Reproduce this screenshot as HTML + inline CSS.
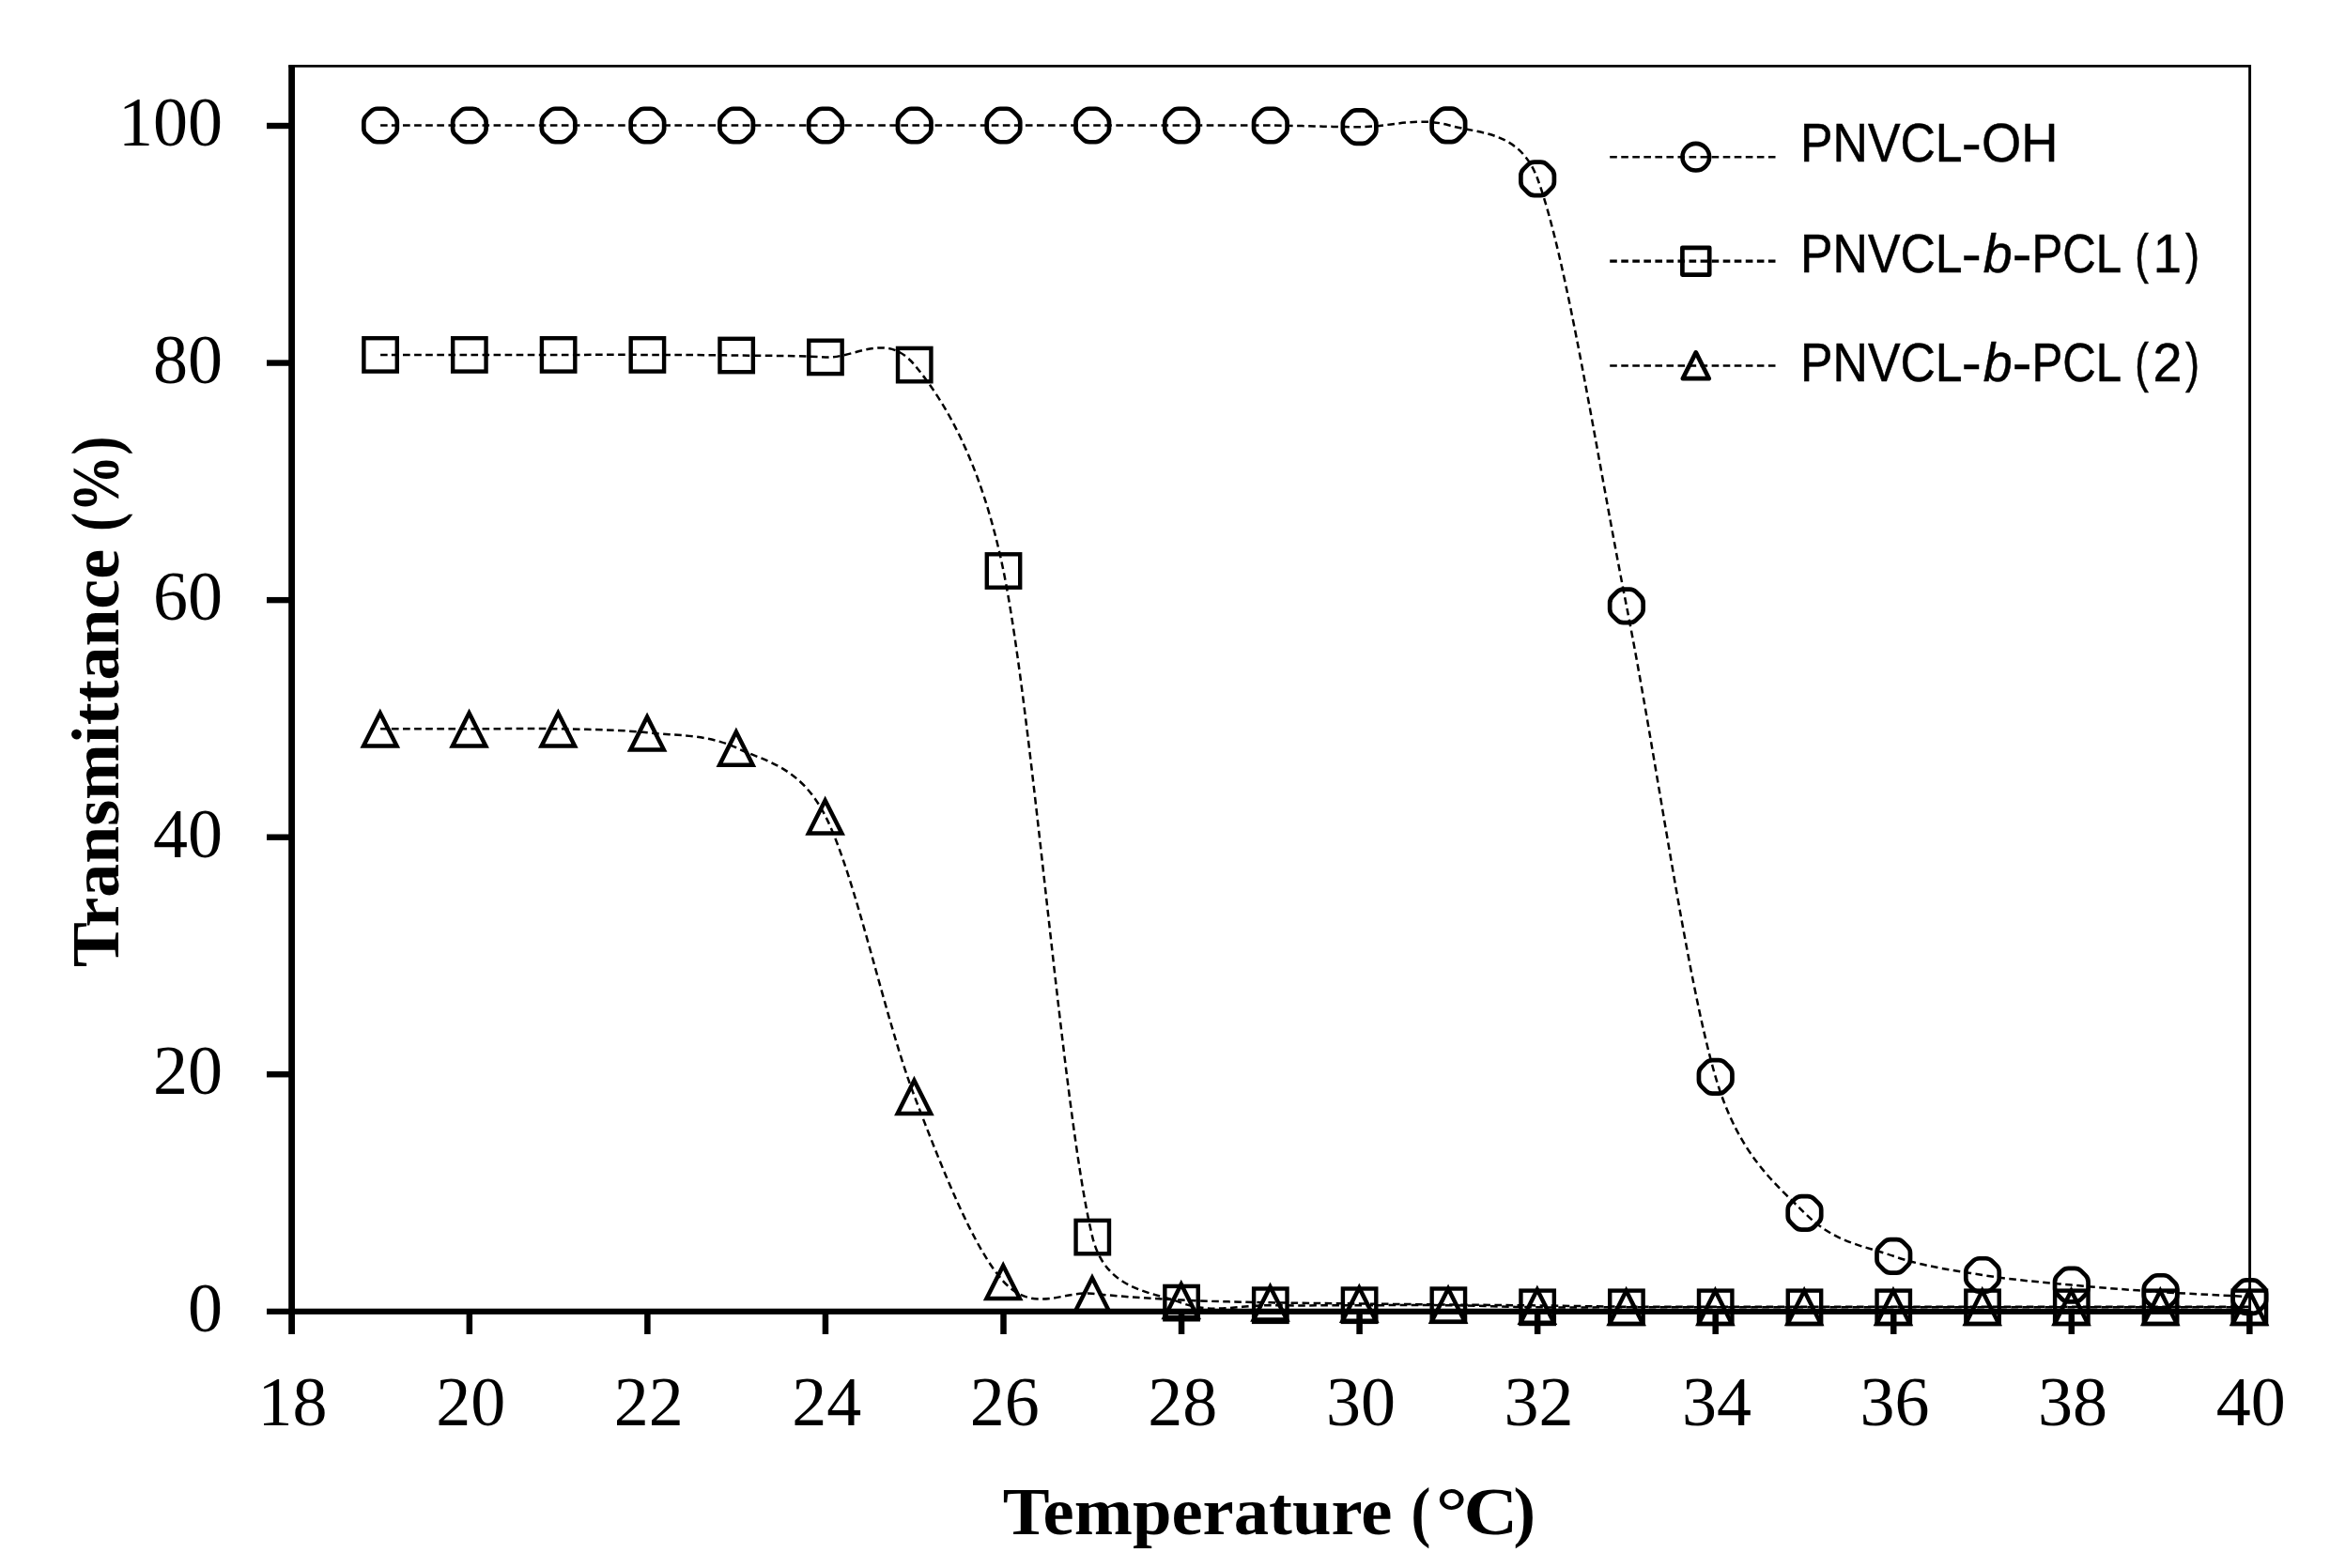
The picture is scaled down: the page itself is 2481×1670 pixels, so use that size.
<!DOCTYPE html>
<html lang="en"><head><meta charset="utf-8"><title>Transmittance vs Temperature</title>
<style>html,body{margin:0;padding:0;background:#fff}svg{display:block}.tk{font-family:"Liberation Serif",serif;font-size:74px;fill:#000}.ttl{font-family:"Liberation Serif",serif;font-weight:bold;font-size:72px;fill:#000}.lg{font-family:"Liberation Sans",sans-serif;font-size:57.5px;fill:#000;stroke:#000;stroke-width:0.5}.ln{fill:none;stroke:#000;stroke-width:2.5;stroke-dasharray:7.6 4.45}.mk{fill:none;stroke:#000;stroke-width:4.7}</style></head><body>
<svg width="2481" height="1670" viewBox="0 0 2481 1670">
<rect width="2481" height="1670" fill="#fff"/>
<path d="M307.3 70.4 H2397 M2395.6 69 V1396" fill="none" stroke="#000" stroke-width="2.9"/>
<path class="ln" d="M405.08 133.50 C420.87 133.50 468.26 133.50 499.85 133.50 C531.44 133.50 563.03 133.50 594.62 133.50 C626.22 133.50 657.81 133.50 689.40 133.50 C720.99 133.50 752.58 133.50 784.17 133.50 C815.77 133.50 847.36 133.50 878.95 133.50 C910.54 133.50 942.13 133.50 973.73 133.50 C1005.32 133.50 1036.91 133.50 1068.50 133.50 C1100.09 133.50 1131.68 133.50 1163.28 133.50 C1194.87 133.50 1226.46 133.50 1258.05 133.50 C1289.64 133.50 1321.23 133.22 1352.83 133.50 C1384.42 133.78 1416.01 135.23 1447.60 135.20 C1479.19 135.17 1510.78 124.12 1542.38 133.30 C1573.97 142.48 1617.95 138.44 1637.15 190.30 C1668.74 275.65 1700.33 485.97 1731.92 645.40 C1763.52 804.83 1795.11 1039.17 1826.70 1146.90 C1851.06 1229.97 1889.88 1259.98 1921.48 1291.80 C1953.07 1323.62 1984.66 1326.77 2016.25 1337.80 C2047.84 1348.83 2079.43 1352.87 2111.03 1358.00 C2142.62 1363.13 2174.21 1365.60 2205.80 1368.60 C2237.39 1371.60 2268.98 1373.92 2300.58 1376.00 C2332.17 1378.08 2379.55 1380.25 2395.35 1381.10"/>
<path class="ln" d="M405.08 377.90 C420.87 377.90 468.26 377.90 499.85 377.90 C531.44 377.90 563.03 377.90 594.62 377.90 C626.22 377.90 657.81 377.80 689.40 377.90 C720.99 378.00 752.58 378.08 784.17 378.50 C815.77 378.92 847.36 378.72 878.95 380.40 C910.54 382.08 943.29 352.05 973.73 388.60 C1005.32 426.53 1044.61 490.91 1068.50 608.00 C1100.09 762.83 1131.68 1187.67 1163.28 1317.60 C1177.19 1374.84 1226.46 1375.50 1258.05 1387.60 C1289.64 1399.70 1321.23 1389.77 1352.83 1390.20 C1384.42 1390.63 1416.01 1390.20 1447.60 1390.20 C1479.19 1390.20 1510.78 1389.85 1542.38 1390.20 C1573.97 1390.55 1605.56 1391.95 1637.15 1392.30 C1668.74 1392.65 1700.33 1392.30 1731.92 1392.30 C1763.52 1392.30 1795.11 1392.30 1826.70 1392.30 C1858.29 1392.30 1889.88 1392.30 1921.48 1392.30 C1953.07 1392.30 1984.66 1392.30 2016.25 1392.30 C2047.84 1392.30 2079.43 1392.30 2111.03 1392.30 C2142.62 1392.30 2174.21 1392.30 2205.80 1392.30 C2237.39 1392.30 2268.98 1392.30 2300.58 1392.30 C2332.17 1392.30 2379.55 1392.30 2395.35 1392.30"/>
<path class="ln" d="M405.08 776.30 C420.87 776.30 468.26 776.30 499.85 776.30 C531.44 776.30 563.03 775.63 594.62 776.30 C626.22 776.97 657.81 776.93 689.40 780.30 C720.99 783.67 752.58 781.67 784.17 796.50 C815.77 811.33 851.77 816.09 878.95 869.30 C910.54 931.15 942.13 1085.02 973.73 1167.60 C1005.32 1250.18 1036.91 1329.77 1068.50 1364.80 C1100.09 1399.83 1131.68 1374.50 1163.28 1377.80 C1194.87 1381.10 1226.46 1383.02 1258.05 1384.60 C1289.64 1386.18 1321.23 1386.65 1352.83 1387.30 C1384.42 1387.95 1416.01 1388.13 1447.60 1388.50 C1479.19 1388.87 1510.78 1389.18 1542.38 1389.50 C1573.97 1389.82 1605.56 1390.03 1637.15 1390.40 C1668.74 1390.77 1700.33 1391.48 1731.92 1391.70 C1763.52 1391.92 1795.11 1391.70 1826.70 1391.70 C1858.29 1391.70 1889.88 1391.70 1921.48 1391.70 C1953.07 1391.70 1984.66 1391.70 2016.25 1391.70 C2047.84 1391.70 2079.43 1391.70 2111.03 1391.70 C2142.62 1391.70 2174.21 1391.70 2205.80 1391.70 C2237.39 1391.70 2268.98 1391.70 2300.58 1391.70 C2332.17 1391.70 2379.55 1391.70 2395.35 1391.70"/>
<path class="mk" stroke-linejoin="round" d="M394.92 118.56 Q397.72 115.75 401.69 115.75 L408.46 115.75 Q412.43 115.75 415.23 118.56 L420.02 123.34 Q422.83 126.15 422.83 130.12 L422.83 136.88 Q422.83 140.85 420.02 143.66 L415.23 148.44 Q412.43 151.25 408.46 151.25 L401.69 151.25 Q397.72 151.25 394.92 148.44 L390.13 143.66 Q387.33 140.85 387.33 136.88 L387.33 130.12 Q387.33 126.15 390.13 123.34 Z"/>
<path class="mk" stroke-linejoin="round" d="M489.69 118.56 Q492.50 115.75 496.47 115.75 L503.23 115.75 Q507.20 115.75 510.01 118.56 L514.79 123.34 Q517.60 126.15 517.60 130.12 L517.60 136.88 Q517.60 140.85 514.79 143.66 L510.01 148.44 Q507.20 151.25 503.23 151.25 L496.47 151.25 Q492.50 151.25 489.69 148.44 L484.91 143.66 Q482.10 140.85 482.10 136.88 L482.10 130.12 Q482.10 126.15 484.91 123.34 Z"/>
<path class="mk" stroke-linejoin="round" d="M584.47 118.56 Q587.27 115.75 591.24 115.75 L598.01 115.75 Q601.98 115.75 604.78 118.56 L609.57 123.34 Q612.38 126.15 612.38 130.12 L612.38 136.88 Q612.38 140.85 609.57 143.66 L604.78 148.44 Q601.98 151.25 598.01 151.25 L591.24 151.25 Q587.27 151.25 584.47 148.44 L579.68 143.66 Q576.88 140.85 576.88 136.88 L576.88 130.12 Q576.88 126.15 579.68 123.34 Z"/>
<path class="mk" stroke-linejoin="round" d="M679.24 118.56 Q682.05 115.75 686.02 115.75 L692.78 115.75 Q696.75 115.75 699.56 118.56 L704.34 123.34 Q707.15 126.15 707.15 130.12 L707.15 136.88 Q707.15 140.85 704.34 143.66 L699.56 148.44 Q696.75 151.25 692.78 151.25 L686.02 151.25 Q682.05 151.25 679.24 148.44 L674.46 143.66 Q671.65 140.85 671.65 136.88 L671.65 130.12 Q671.65 126.15 674.46 123.34 Z"/>
<path class="mk" stroke-linejoin="round" d="M774.02 118.56 Q776.82 115.75 780.79 115.75 L787.56 115.75 Q791.53 115.75 794.33 118.56 L799.12 123.34 Q801.92 126.15 801.92 130.12 L801.92 136.88 Q801.92 140.85 799.12 143.66 L794.33 148.44 Q791.53 151.25 787.56 151.25 L780.79 151.25 Q776.82 151.25 774.02 148.44 L769.23 143.66 Q766.42 140.85 766.42 136.88 L766.42 130.12 Q766.42 126.15 769.23 123.34 Z"/>
<path class="mk" stroke-linejoin="round" d="M868.79 118.56 Q871.60 115.75 875.57 115.75 L882.33 115.75 Q886.30 115.75 889.11 118.56 L893.89 123.34 Q896.70 126.15 896.70 130.12 L896.70 136.88 Q896.70 140.85 893.89 143.66 L889.11 148.44 Q886.30 151.25 882.33 151.25 L875.57 151.25 Q871.60 151.25 868.79 148.44 L864.01 143.66 Q861.20 140.85 861.20 136.88 L861.20 130.12 Q861.20 126.15 864.01 123.34 Z"/>
<path class="mk" stroke-linejoin="round" d="M963.57 118.56 Q966.37 115.75 970.34 115.75 L977.11 115.75 Q981.08 115.75 983.88 118.56 L988.67 123.34 Q991.48 126.15 991.48 130.12 L991.48 136.88 Q991.48 140.85 988.67 143.66 L983.88 148.44 Q981.08 151.25 977.11 151.25 L970.34 151.25 Q966.37 151.25 963.57 148.44 L958.78 143.66 Q955.98 140.85 955.98 136.88 L955.98 130.12 Q955.98 126.15 958.78 123.34 Z"/>
<path class="mk" stroke-linejoin="round" d="M1058.34 118.56 Q1061.15 115.75 1065.12 115.75 L1071.88 115.75 Q1075.85 115.75 1078.66 118.56 L1083.44 123.34 Q1086.25 126.15 1086.25 130.12 L1086.25 136.88 Q1086.25 140.85 1083.44 143.66 L1078.66 148.44 Q1075.85 151.25 1071.88 151.25 L1065.12 151.25 Q1061.15 151.25 1058.34 148.44 L1053.56 143.66 Q1050.75 140.85 1050.75 136.88 L1050.75 130.12 Q1050.75 126.15 1053.56 123.34 Z"/>
<path class="mk" stroke-linejoin="round" d="M1153.12 118.56 Q1155.92 115.75 1159.89 115.75 L1166.66 115.75 Q1170.63 115.75 1173.43 118.56 L1178.22 123.34 Q1181.03 126.15 1181.03 130.12 L1181.03 136.88 Q1181.03 140.85 1178.22 143.66 L1173.43 148.44 Q1170.63 151.25 1166.66 151.25 L1159.89 151.25 Q1155.92 151.25 1153.12 148.44 L1148.33 143.66 Q1145.53 140.85 1145.53 136.88 L1145.53 130.12 Q1145.53 126.15 1148.33 123.34 Z"/>
<path class="mk" stroke-linejoin="round" d="M1247.89 118.56 Q1250.70 115.75 1254.67 115.75 L1261.43 115.75 Q1265.40 115.75 1268.21 118.56 L1272.99 123.34 Q1275.80 126.15 1275.80 130.12 L1275.80 136.88 Q1275.80 140.85 1272.99 143.66 L1268.21 148.44 Q1265.40 151.25 1261.43 151.25 L1254.67 151.25 Q1250.70 151.25 1247.89 148.44 L1243.11 143.66 Q1240.30 140.85 1240.30 136.88 L1240.30 130.12 Q1240.30 126.15 1243.11 123.34 Z"/>
<path class="mk" stroke-linejoin="round" d="M1342.67 118.56 Q1345.47 115.75 1349.44 115.75 L1356.21 115.75 Q1360.18 115.75 1362.98 118.56 L1367.77 123.34 Q1370.58 126.15 1370.58 130.12 L1370.58 136.88 Q1370.58 140.85 1367.77 143.66 L1362.98 148.44 Q1360.18 151.25 1356.21 151.25 L1349.44 151.25 Q1345.47 151.25 1342.67 148.44 L1337.88 143.66 Q1335.08 140.85 1335.08 136.88 L1335.08 130.12 Q1335.08 126.15 1337.88 123.34 Z"/>
<path class="mk" stroke-linejoin="round" d="M1437.44 120.26 Q1440.25 117.45 1444.22 117.45 L1450.98 117.45 Q1454.95 117.45 1457.76 120.26 L1462.54 125.04 Q1465.35 127.85 1465.35 131.82 L1465.35 138.58 Q1465.35 142.55 1462.54 145.36 L1457.76 150.14 Q1454.95 152.95 1450.98 152.95 L1444.22 152.95 Q1440.25 152.95 1437.44 150.14 L1432.66 145.36 Q1429.85 142.55 1429.85 138.58 L1429.85 131.82 Q1429.85 127.85 1432.66 125.04 Z"/>
<path class="mk" stroke-linejoin="round" d="M1532.22 118.36 Q1535.02 115.55 1538.99 115.55 L1545.76 115.55 Q1549.73 115.55 1552.53 118.36 L1557.32 123.14 Q1560.12 125.95 1560.12 129.92 L1560.12 136.68 Q1560.12 140.65 1557.32 143.46 L1552.53 148.24 Q1549.73 151.05 1545.76 151.05 L1538.99 151.05 Q1535.02 151.05 1532.22 148.24 L1527.43 143.46 Q1524.62 140.65 1524.62 136.68 L1524.62 129.92 Q1524.62 125.95 1527.43 123.14 Z"/>
<path class="mk" stroke-linejoin="round" d="M1626.99 175.36 Q1629.80 172.55 1633.77 172.55 L1640.53 172.55 Q1644.50 172.55 1647.31 175.36 L1652.09 180.14 Q1654.90 182.95 1654.90 186.92 L1654.90 193.68 Q1654.90 197.65 1652.09 200.46 L1647.31 205.24 Q1644.50 208.05 1640.53 208.05 L1633.77 208.05 Q1629.80 208.05 1626.99 205.24 L1622.21 200.46 Q1619.40 197.65 1619.40 193.68 L1619.40 186.92 Q1619.40 182.95 1622.21 180.14 Z"/>
<path class="mk" stroke-linejoin="round" d="M1721.77 630.46 Q1724.57 627.65 1728.54 627.65 L1735.31 627.65 Q1739.28 627.65 1742.08 630.46 L1746.87 635.24 Q1749.67 638.05 1749.67 642.02 L1749.67 648.78 Q1749.67 652.75 1746.87 655.56 L1742.08 660.34 Q1739.28 663.15 1735.31 663.15 L1728.54 663.15 Q1724.57 663.15 1721.77 660.34 L1716.98 655.56 Q1714.17 652.75 1714.17 648.78 L1714.17 642.02 Q1714.17 638.05 1716.98 635.24 Z"/>
<path class="mk" stroke-linejoin="round" d="M1816.54 1131.96 Q1819.35 1129.15 1823.32 1129.15 L1830.08 1129.15 Q1834.05 1129.15 1836.86 1131.96 L1841.64 1136.74 Q1844.45 1139.55 1844.45 1143.52 L1844.45 1150.28 Q1844.45 1154.25 1841.64 1157.06 L1836.86 1161.84 Q1834.05 1164.65 1830.08 1164.65 L1823.32 1164.65 Q1819.35 1164.65 1816.54 1161.84 L1811.76 1157.06 Q1808.95 1154.25 1808.95 1150.28 L1808.95 1143.52 Q1808.95 1139.55 1811.76 1136.74 Z"/>
<path class="mk" stroke-linejoin="round" d="M1911.32 1276.86 Q1914.12 1274.05 1918.09 1274.05 L1924.86 1274.05 Q1928.83 1274.05 1931.63 1276.86 L1936.42 1281.64 Q1939.23 1284.45 1939.23 1288.42 L1939.23 1295.18 Q1939.23 1299.15 1936.42 1301.96 L1931.63 1306.74 Q1928.83 1309.55 1924.86 1309.55 L1918.09 1309.55 Q1914.12 1309.55 1911.32 1306.74 L1906.53 1301.96 Q1903.73 1299.15 1903.73 1295.18 L1903.73 1288.42 Q1903.73 1284.45 1906.53 1281.64 Z"/>
<path class="mk" stroke-linejoin="round" d="M2006.09 1322.86 Q2008.90 1320.05 2012.87 1320.05 L2019.63 1320.05 Q2023.60 1320.05 2026.41 1322.86 L2031.19 1327.64 Q2034.00 1330.45 2034.00 1334.42 L2034.00 1341.18 Q2034.00 1345.15 2031.19 1347.96 L2026.41 1352.74 Q2023.60 1355.55 2019.63 1355.55 L2012.87 1355.55 Q2008.90 1355.55 2006.09 1352.74 L2001.31 1347.96 Q1998.50 1345.15 1998.50 1341.18 L1998.50 1334.42 Q1998.50 1330.45 2001.31 1327.64 Z"/>
<path class="mk" stroke-linejoin="round" d="M2100.87 1343.06 Q2103.67 1340.25 2107.64 1340.25 L2114.41 1340.25 Q2118.38 1340.25 2121.18 1343.06 L2125.97 1347.84 Q2128.78 1350.65 2128.78 1354.62 L2128.78 1361.38 Q2128.78 1365.35 2125.97 1368.16 L2121.18 1372.94 Q2118.38 1375.75 2114.41 1375.75 L2107.64 1375.75 Q2103.67 1375.75 2100.87 1372.94 L2096.08 1368.16 Q2093.28 1365.35 2093.28 1361.38 L2093.28 1354.62 Q2093.28 1350.65 2096.08 1347.84 Z"/>
<path class="mk" stroke-linejoin="round" d="M2195.64 1353.66 Q2198.45 1350.85 2202.42 1350.85 L2209.18 1350.85 Q2213.15 1350.85 2215.96 1353.66 L2220.74 1358.44 Q2223.55 1361.25 2223.55 1365.22 L2223.55 1371.98 Q2223.55 1375.95 2220.74 1378.76 L2215.96 1383.54 Q2213.15 1386.35 2209.18 1386.35 L2202.42 1386.35 Q2198.45 1386.35 2195.64 1383.54 L2190.86 1378.76 Q2188.05 1375.95 2188.05 1371.98 L2188.05 1365.22 Q2188.05 1361.25 2190.86 1358.44 Z"/>
<path class="mk" stroke-linejoin="round" d="M2290.42 1361.06 Q2293.22 1358.25 2297.19 1358.25 L2303.96 1358.25 Q2307.93 1358.25 2310.73 1361.06 L2315.52 1365.84 Q2318.33 1368.65 2318.33 1372.62 L2318.33 1379.38 Q2318.33 1383.35 2315.52 1386.16 L2310.73 1390.94 Q2307.93 1393.75 2303.96 1393.75 L2297.19 1393.75 Q2293.22 1393.75 2290.42 1390.94 L2285.63 1386.16 Q2282.83 1383.35 2282.83 1379.38 L2282.83 1372.62 Q2282.83 1368.65 2285.63 1365.84 Z"/>
<path class="mk" stroke-linejoin="round" d="M2385.19 1366.16 Q2388.00 1363.35 2391.97 1363.35 L2398.73 1363.35 Q2402.70 1363.35 2405.51 1366.16 L2410.29 1370.94 Q2413.10 1373.75 2413.10 1377.72 L2413.10 1384.48 Q2413.10 1388.45 2410.29 1391.26 L2405.51 1396.04 Q2402.70 1398.85 2398.73 1398.85 L2391.97 1398.85 Q2388.00 1398.85 2385.19 1396.04 L2380.41 1391.26 Q2377.60 1388.45 2377.60 1384.48 L2377.60 1377.72 Q2377.60 1373.75 2380.41 1370.94 Z"/>
<rect class="mk" style="stroke-width:4.4" x="387.38" y="360.20" width="35.40" height="35.40"/>
<rect class="mk" style="stroke-width:4.4" x="482.15" y="360.20" width="35.40" height="35.40"/>
<rect class="mk" style="stroke-width:4.4" x="576.92" y="360.20" width="35.40" height="35.40"/>
<rect class="mk" style="stroke-width:4.4" x="671.70" y="360.20" width="35.40" height="35.40"/>
<rect class="mk" style="stroke-width:4.4" x="766.47" y="360.80" width="35.40" height="35.40"/>
<rect class="mk" style="stroke-width:4.4" x="861.25" y="362.70" width="35.40" height="35.40"/>
<rect class="mk" style="stroke-width:4.4" x="956.03" y="370.90" width="35.40" height="35.40"/>
<rect class="mk" style="stroke-width:4.4" x="1050.80" y="590.30" width="35.40" height="35.40"/>
<rect class="mk" style="stroke-width:4.4" x="1145.58" y="1299.90" width="35.40" height="35.40"/>
<rect class="mk" style="stroke-width:4.4" x="1240.35" y="1369.90" width="35.40" height="35.40"/>
<rect class="mk" style="stroke-width:4.4" x="1335.12" y="1372.50" width="35.40" height="35.40"/>
<rect class="mk" style="stroke-width:4.4" x="1429.90" y="1372.50" width="35.40" height="35.40"/>
<rect class="mk" style="stroke-width:4.4" x="1524.67" y="1372.50" width="35.40" height="35.40"/>
<rect class="mk" style="stroke-width:4.4" x="1619.45" y="1374.60" width="35.40" height="35.40"/>
<rect class="mk" style="stroke-width:4.4" x="1714.22" y="1374.60" width="35.40" height="35.40"/>
<rect class="mk" style="stroke-width:4.4" x="1809.00" y="1374.60" width="35.40" height="35.40"/>
<rect class="mk" style="stroke-width:4.4" x="1903.78" y="1374.60" width="35.40" height="35.40"/>
<rect class="mk" style="stroke-width:4.4" x="1998.55" y="1374.60" width="35.40" height="35.40"/>
<rect class="mk" style="stroke-width:4.4" x="2093.33" y="1374.60" width="35.40" height="35.40"/>
<rect class="mk" style="stroke-width:4.4" x="2188.10" y="1374.60" width="35.40" height="35.40"/>
<rect class="mk" style="stroke-width:4.4" x="2282.88" y="1374.60" width="35.40" height="35.40"/>
<rect class="mk" style="stroke-width:4.4" x="2377.65" y="1374.60" width="35.40" height="35.40"/>
<polygon class="mk" style="stroke-width:4.5" stroke-miterlimit="10" points="404.78,759.40 422.48,794.60 387.08,794.60"/>
<polygon class="mk" style="stroke-width:4.5" stroke-miterlimit="10" points="499.55,759.40 517.25,794.60 481.85,794.60"/>
<polygon class="mk" style="stroke-width:4.5" stroke-miterlimit="10" points="594.33,759.40 612.03,794.60 576.62,794.60"/>
<polygon class="mk" style="stroke-width:4.5" stroke-miterlimit="10" points="689.10,763.40 706.80,798.60 671.40,798.60"/>
<polygon class="mk" style="stroke-width:4.5" stroke-miterlimit="10" points="783.88,779.60 801.58,814.80 766.17,814.80"/>
<polygon class="mk" style="stroke-width:4.5" stroke-miterlimit="10" points="878.65,852.40 896.35,887.60 860.95,887.60"/>
<polygon class="mk" style="stroke-width:4.5" stroke-miterlimit="10" points="973.43,1150.70 991.13,1185.90 955.73,1185.90"/>
<polygon class="mk" style="stroke-width:4.5" stroke-miterlimit="10" points="1068.20,1347.90 1085.90,1383.10 1050.50,1383.10"/>
<polygon class="mk" style="stroke-width:4.5" stroke-miterlimit="10" points="1162.98,1360.90 1180.68,1396.10 1145.28,1396.10"/>
<polygon class="mk" style="stroke-width:4.5" stroke-miterlimit="10" points="1257.75,1367.70 1275.45,1402.90 1240.05,1402.90"/>
<polygon class="mk" style="stroke-width:4.5" stroke-miterlimit="10" points="1352.53,1370.40 1370.23,1405.60 1334.83,1405.60"/>
<polygon class="mk" style="stroke-width:4.5" stroke-miterlimit="10" points="1447.30,1371.60 1465.00,1406.80 1429.60,1406.80"/>
<polygon class="mk" style="stroke-width:4.5" stroke-miterlimit="10" points="1542.08,1372.60 1559.78,1407.80 1524.38,1407.80"/>
<polygon class="mk" style="stroke-width:4.5" stroke-miterlimit="10" points="1636.85,1373.50 1654.55,1408.70 1619.15,1408.70"/>
<polygon class="mk" style="stroke-width:4.5" stroke-miterlimit="10" points="1731.62,1374.80 1749.33,1410.00 1713.92,1410.00"/>
<polygon class="mk" style="stroke-width:4.5" stroke-miterlimit="10" points="1826.40,1374.80 1844.10,1410.00 1808.70,1410.00"/>
<polygon class="mk" style="stroke-width:4.5" stroke-miterlimit="10" points="1921.18,1374.80 1938.88,1410.00 1903.48,1410.00"/>
<polygon class="mk" style="stroke-width:4.5" stroke-miterlimit="10" points="2015.95,1374.80 2033.65,1410.00 1998.25,1410.00"/>
<polygon class="mk" style="stroke-width:4.5" stroke-miterlimit="10" points="2110.72,1374.80 2128.42,1410.00 2093.03,1410.00"/>
<polygon class="mk" style="stroke-width:4.5" stroke-miterlimit="10" points="2205.50,1374.80 2223.20,1410.00 2187.80,1410.00"/>
<polygon class="mk" style="stroke-width:4.5" stroke-miterlimit="10" points="2300.28,1374.80 2317.97,1410.00 2282.58,1410.00"/>
<polygon class="mk" style="stroke-width:4.5" stroke-miterlimit="10" points="2395.05,1374.80 2412.75,1410.00 2377.35,1410.00"/>
<g fill="#000">
<rect x="307.2" y="69.5" width="6.8" height="1351.5"/>
<rect x="284" y="1393.7" width="2113" height="6.2"/>
<rect x="496.60" y="1396" width="6.5" height="25"/>
<rect x="686.15" y="1396" width="6.5" height="25"/>
<rect x="875.70" y="1396" width="6.5" height="25"/>
<rect x="1065.25" y="1396" width="6.5" height="25"/>
<rect x="1254.80" y="1396" width="6.5" height="25"/>
<rect x="1444.35" y="1396" width="6.5" height="25"/>
<rect x="1633.90" y="1396" width="6.5" height="25"/>
<rect x="1823.45" y="1396" width="6.5" height="25"/>
<rect x="2013.00" y="1396" width="6.5" height="25"/>
<rect x="2202.55" y="1396" width="6.5" height="25"/>
<rect x="2392.10" y="1396" width="6.5" height="25"/>
<rect x="284" y="1141.04" width="27" height="6.4"/>
<rect x="284" y="888.48" width="27" height="6.4"/>
<rect x="284" y="635.92" width="27" height="6.4"/>
<rect x="284" y="383.36" width="27" height="6.4"/>
<rect x="284" y="130.80" width="27" height="6.4"/>
</g>
<text class="tk" x="311.60" y="1517.5" text-anchor="middle">18</text>
<text class="tk" x="501.15" y="1517.5" text-anchor="middle">20</text>
<text class="tk" x="690.70" y="1517.5" text-anchor="middle">22</text>
<text class="tk" x="880.25" y="1517.5" text-anchor="middle">24</text>
<text class="tk" x="1069.80" y="1517.5" text-anchor="middle">26</text>
<text class="tk" x="1259.35" y="1517.5" text-anchor="middle">28</text>
<text class="tk" x="1448.90" y="1517.5" text-anchor="middle">30</text>
<text class="tk" x="1638.45" y="1517.5" text-anchor="middle">32</text>
<text class="tk" x="1828.00" y="1517.5" text-anchor="middle">34</text>
<text class="tk" x="2017.55" y="1517.5" text-anchor="middle">36</text>
<text class="tk" x="2207.10" y="1517.5" text-anchor="middle">38</text>
<text class="tk" x="2396.65" y="1517.5" text-anchor="middle">40</text>
<text class="tk" x="237" y="1418.00" text-anchor="end">0</text>
<text class="tk" x="237" y="1165.44" text-anchor="end">20</text>
<text class="tk" x="237" y="912.88" text-anchor="end">40</text>
<text class="tk" x="237" y="660.32" text-anchor="end">60</text>
<text class="tk" x="237" y="407.76" text-anchor="end">80</text>
<text class="tk" x="237" y="155.20" text-anchor="end">100</text>
<text class="ttl" y="1633.7"><tspan x="1067.66" textLength="414.75" lengthAdjust="spacingAndGlyphs">Temperature</tspan><tspan> </tspan><tspan x="1502.49" textLength="20.83" lengthAdjust="spacingAndGlyphs">(</tspan><tspan x="1528.88" textLength="34.01" lengthAdjust="spacingAndGlyphs">°</tspan><tspan x="1558.46" textLength="57.70" lengthAdjust="spacingAndGlyphs">C</tspan><tspan x="1611.44" textLength="23.48" lengthAdjust="spacingAndGlyphs">)</tspan></text>
<text class="ttl" transform="translate(126.3,1030) rotate(-90)"><tspan x="0" textLength="445" lengthAdjust="spacingAndGlyphs">Transmittance</tspan><tspan> </tspan><tspan x="464" textLength="101.5" lengthAdjust="spacingAndGlyphs">(%)</tspan></text>
<path class="ln" style="stroke-width:2.4" d="M1714.2 167.20 H1891.3"/>
<path class="ln" style="stroke-width:3.3" d="M1714.2 278.20 H1891.3"/>
<path class="ln" style="stroke-width:2.4" d="M1714.2 389.50 H1891.3"/>
<circle class="mk" style="stroke-width:4.6" cx="1805.80" cy="167.20" r="14.3"/>
<rect class="mk" style="stroke-width:4.7" stroke-linejoin="round" x="1791.40" y="263.80" width="28.8" height="28.8"/>
<polygon class="mk" style="stroke-width:4.7" stroke-linejoin="round" points="1805.80,375.40 1819.80,403.20 1791.80,403.20"/>
<text class="lg" y="172"><tspan x="1917.00" textLength="172.66" lengthAdjust="spacingAndGlyphs">PNVCL</tspan><tspan x="2088.70" textLength="21.07" lengthAdjust="spacingAndGlyphs">-</tspan><tspan x="2109.97" textLength="81.45" lengthAdjust="spacingAndGlyphs">OH</tspan></text>
<text class="lg" y="289.8"><tspan x="1917.00" textLength="172.66" lengthAdjust="spacingAndGlyphs">PNVCL</tspan><tspan x="2088.70" textLength="21.07" lengthAdjust="spacingAndGlyphs">-</tspan><tspan x="2111.83" textLength="30.88" lengthAdjust="spacingAndGlyphs" font-style="italic">b</tspan><tspan x="2142.86" textLength="20.66" lengthAdjust="spacingAndGlyphs">-</tspan><tspan x="2163.40" textLength="93.96" lengthAdjust="spacingAndGlyphs">PCL</tspan><tspan> </tspan><tspan x="2273.14" textLength="14.64" lengthAdjust="spacingAndGlyphs">(</tspan><tspan x="2292.82" textLength="30.19" lengthAdjust="spacingAndGlyphs">1</tspan><tspan x="2327.01" textLength="15.07" lengthAdjust="spacingAndGlyphs">)</tspan></text>
<text class="lg" y="406.3"><tspan x="1917.00" textLength="172.66" lengthAdjust="spacingAndGlyphs">PNVCL</tspan><tspan x="2088.70" textLength="21.07" lengthAdjust="spacingAndGlyphs">-</tspan><tspan x="2111.83" textLength="30.88" lengthAdjust="spacingAndGlyphs" font-style="italic">b</tspan><tspan x="2142.86" textLength="20.66" lengthAdjust="spacingAndGlyphs">-</tspan><tspan x="2163.40" textLength="93.96" lengthAdjust="spacingAndGlyphs">PCL</tspan><tspan> </tspan><tspan x="2273.14" textLength="14.64" lengthAdjust="spacingAndGlyphs">(</tspan><tspan x="2292.59" textLength="31.00" lengthAdjust="spacingAndGlyphs">2</tspan><tspan x="2327.01" textLength="15.07" lengthAdjust="spacingAndGlyphs">)</tspan></text>
</svg></body></html>
